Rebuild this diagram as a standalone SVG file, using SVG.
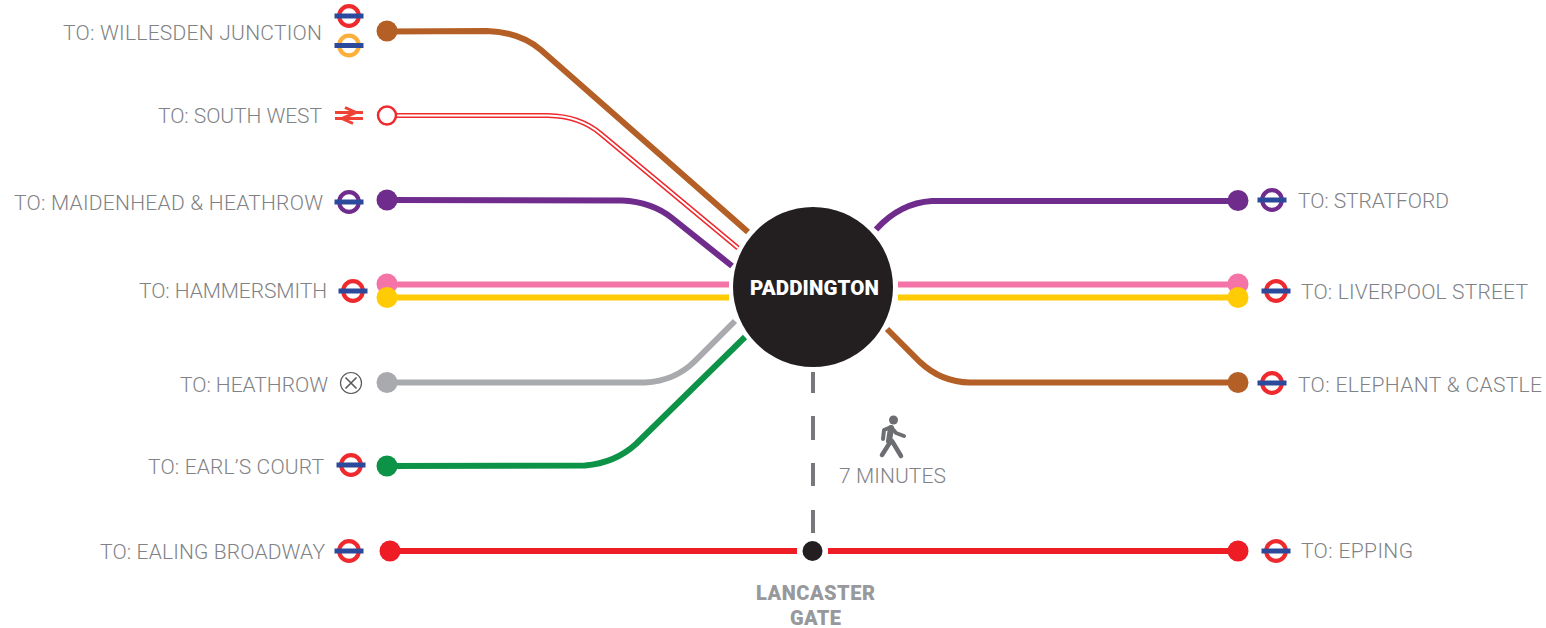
<svg xmlns="http://www.w3.org/2000/svg" width="1546" height="628" viewBox="0 0 1546 628">
<style>
.lbl{font-family:"Roboto","Liberation Sans",sans-serif;font-weight:300;font-size:21px;fill:#808285}
.ln{fill:none;stroke-width:6}
.bar{fill:#2b4a9c;stroke:none}
.hd{font-family:"Roboto","Liberation Sans",sans-serif;font-weight:900;font-size:20px;fill:#97999c;text-anchor:middle}
</style>
<defs>
<g id="ug"><circle r="9.800" fill="none" stroke-width="4.200"/><rect x="-14.500" y="-2.500" width="29" height="5" class="bar"/></g>
</defs>
<rect width="1546" height="628" fill="#fff"/>
<g id="connectors">
<path class="ln" stroke="#b45f26" d="M387 31.500 L487 31 Q520 32 541 50 L748 232"/>
<path fill="none" stroke="#ee2a2e" stroke-width="5" d="M387 115.500 L548 115.500 Q580 116 601 134 L738 248"/>
<path fill="none" stroke="#fff" stroke-width="2" d="M387 115.500 L548 115.500 Q580 116 601 134 L738 248"/>
<path class="ln" stroke="#702c8c" d="M387 200 L622 200.500 Q652 202 672 218 L732 266"/>
<path class="ln" stroke="#f574a7" d="M387 284.500 L729 284.500"/>
<path class="ln" stroke="#ffcb05" d="M387 297.500 L729 297.500"/>
<path class="ln" stroke="#a9aaad" d="M387 382.500 L645 382.500 Q675 381 695 361 L735 321"/>
<path class="ln" stroke="#0c9347" d="M387 466 L585 465.500 Q615 463 636 444 L745 337"/>
<path class="ln" stroke="#702c8c" d="M876 229.500 Q900 203 932 201 L1238 201"/>
<path class="ln" stroke="#f574a7" d="M898 284.500 L1238 284.500"/>
<path class="ln" stroke="#ffcb05" d="M898 297.500 L1238 297.500"/>
<path class="ln" stroke="#b45f26" d="M887 329 L920 362 Q941 382 970 382.500 L1238 382.500"/>
<path class="ln" stroke="#ee1c25" d="M390 551 L797 551 M828 551 L1238 551"/>
<path fill="none" stroke="#77787b" stroke-width="4" d="M813 372 V393 M813 416 V440 M813 463 V486 M813 510 V533"/>
</g>
<g id="terminals">
<circle cx="387" cy="31" r="10.500" fill="#b45f26"/>
<circle cx="387" cy="115.500" r="9" fill="#fff" stroke="#ee2a2e" stroke-width="2.500"/>
<circle cx="387" cy="200" r="10.500" fill="#702c8c"/>
<circle cx="387" cy="284" r="10.500" fill="#f574a7"/>
<circle cx="387" cy="297.500" r="10.500" fill="#ffcb05"/>
<circle cx="387" cy="382.500" r="10.500" fill="#a9aaad"/>
<circle cx="387" cy="466" r="10.500" fill="#0c9347"/>
<circle cx="390" cy="551" r="10.500" fill="#ee1c25"/>
<circle cx="1238" cy="200.500" r="10.500" fill="#702c8c"/>
<circle cx="1238" cy="284" r="10.500" fill="#f574a7"/>
<circle cx="1238" cy="297.500" r="10.500" fill="#ffcb05"/>
<circle cx="1238" cy="382.500" r="10.500" fill="#b45f26"/>
<circle cx="1238" cy="551" r="10.500" fill="#ee1c25"/>
</g>
<g id="paddington">
<circle cx="813" cy="287" r="80" fill="#231f20"/>
<text x="814.500" y="295" text-anchor="middle" font-family="Roboto,'Liberation Sans',sans-serif" font-weight="900" font-size="20.500" fill="#fff" textLength="129">PADDINGTON</text>
</g>
<g id="lancaster-gate">
<circle cx="812.500" cy="551" r="10" fill="#231f20"/>
<text class="hd" x="815.500" y="600" textLength="119">LANCASTER</text>
<text class="hd" x="815.500" y="625" textLength="51">GATE</text>
</g>
<g id="walk">
<circle cx="893.500" cy="420" r="4.500" fill="#6d6e71"/>
<path fill="none" stroke="#6d6e71" stroke-width="4" stroke-linecap="round" stroke-linejoin="round" d="M883 439 L884 430 L891 427 L896 433 L904 436"/>
<path fill="none" stroke="#6d6e71" stroke-width="6" stroke-linecap="round" d="M891 428 L889 441"/>
<path fill="none" stroke="#6d6e71" stroke-width="4.500" stroke-linecap="round" stroke-linejoin="round" d="M882 455 L889 444 L892 441 L901 456"/>
<text class="lbl" x="839" y="483" textLength="107">7 MINUTES</text>
</g>
<g id="icons">
<use href="#ug" x="349" y="16" stroke="#ee2a2e"/>
<use href="#ug" x="349" y="45.500" stroke="#fbb03b"/>
<use href="#ug" x="349" y="202" stroke="#702c8c"/>
<use href="#ug" x="353" y="291" stroke="#ee2a2e"/>
<use href="#ug" x="351" y="465" stroke="#ee2a2e"/>
<use href="#ug" x="349" y="551" stroke="#ee2a2e"/>
<use href="#ug" x="1272" y="200" stroke="#702c8c"/>
<use href="#ug" x="1276" y="291" stroke="#ee2a2e"/>
<use href="#ug" x="1272" y="383" stroke="#ee2a2e"/>
<use href="#ug" x="1276" y="551" stroke="#ee2a2e"/>
<g id="national-rail" fill="none" stroke="#ef4136" stroke-width="3">
<path d="M335 112.500 H363 M335 118.500 H363"/>
<path d="M345 107.500 L356 112.500 L342 118.500 L353 123.500"/>
</g>
<g id="crossrail" fill="none" stroke="#58595b" stroke-width="1.200">
<circle cx="351" cy="383" r="10.500"/>
<path d="M345.500 377.500 L356.500 388.500 M356.500 377.500 L345.500 388.500" stroke-width="1.600"/>
</g>
</g>
<g id="labels">
<text class="lbl" x="63" y="40" textLength="259">TO: WILLESDEN JUNCTION</text>
<text class="lbl" x="158" y="123" textLength="164">TO: SOUTH WEST</text>
<text class="lbl" x="14" y="210" textLength="309">TO: MAIDENHEAD &amp; HEATHROW</text>
<text class="lbl" x="139" y="298" textLength="188">TO: HAMMERSMITH</text>
<text class="lbl" x="180" y="392" textLength="148">TO: HEATHROW</text>
<text class="lbl" x="148" y="474" textLength="176">TO: EARL’S COURT</text>
<text class="lbl" x="100" y="559" textLength="225">TO: EALING BROADWAY</text>
<text class="lbl" x="1298" y="208" textLength="151">TO: STRATFORD</text>
<text class="lbl" x="1301" y="299" textLength="227">TO: LIVERPOOL STREET</text>
<text class="lbl" x="1298" y="392" textLength="244">TO: ELEPHANT &amp; CASTLE</text>
<text class="lbl" x="1301" y="558" textLength="112">TO: EPPING</text>
</g>
</svg>
